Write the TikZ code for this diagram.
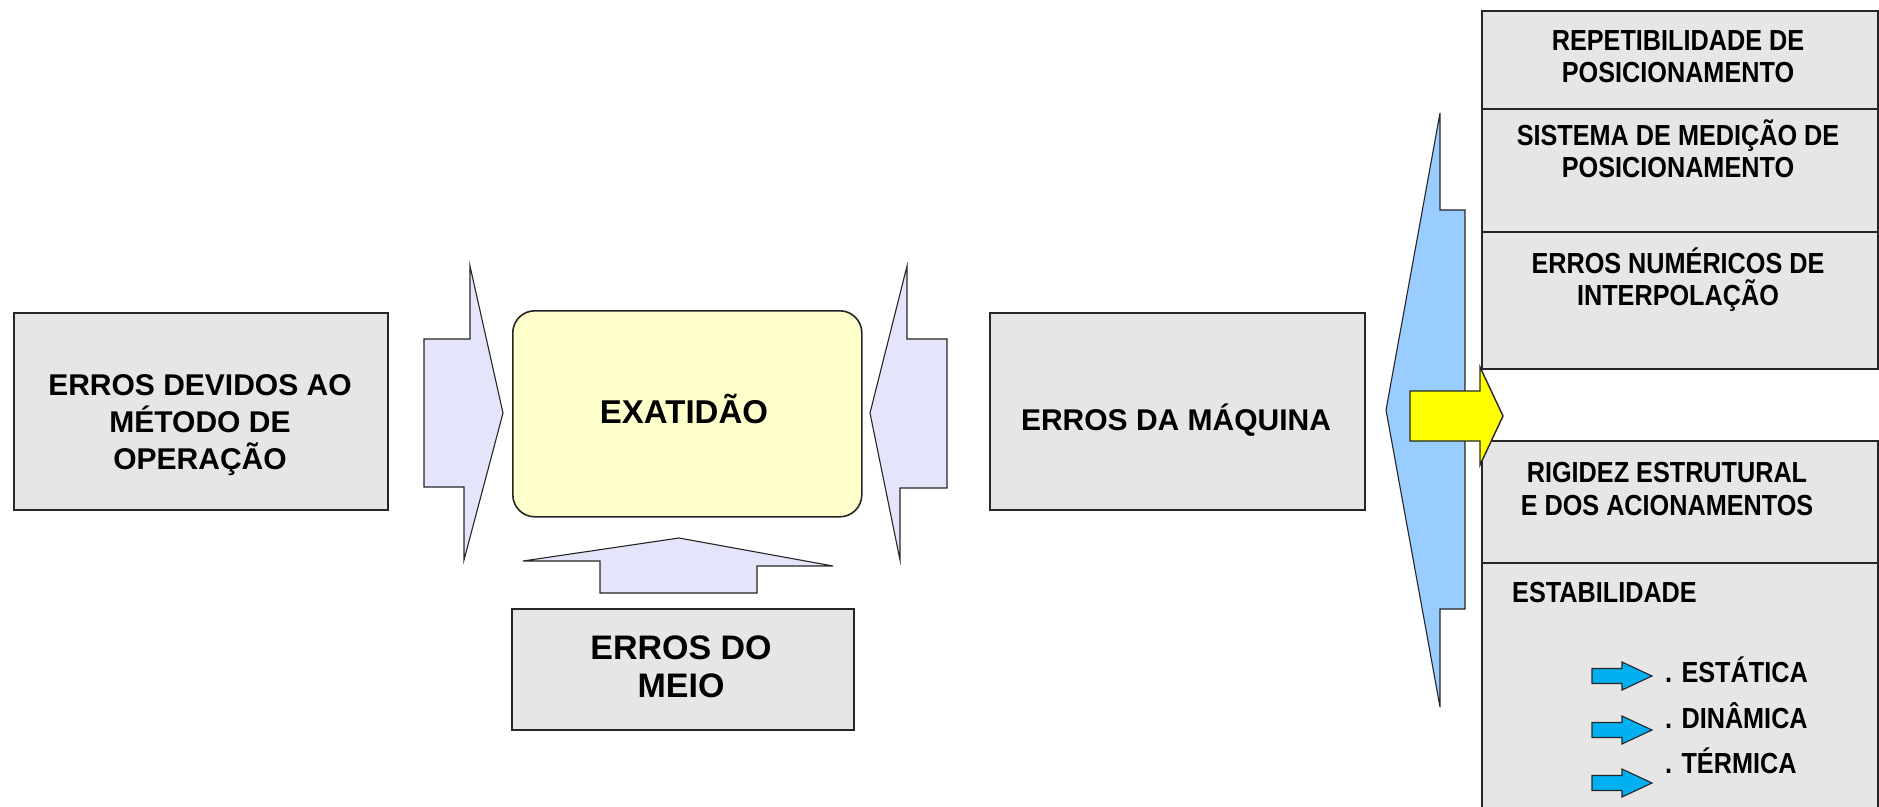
\documentclass[tikz,border=0pt]{standalone}
\usepackage{fontspec}
\setmainfont{Liberation Sans}
\newfontfamily\narrowfont{Liberation Sans}[FakeStretch=0.87]
\definecolor{boxgrey}{RGB}{230,230,230}
\definecolor{lav}{RGB}{228,228,250}
\definecolor{exafill}{RGB}{255,255,204}
\definecolor{bigblue}{RGB}{153,204,255}
\definecolor{smallcyan}{RGB}{0,176,240}
\definecolor{yel}{RGB}{255,255,0}
\tikzset{
  box/.style={draw=black!85, line width=1.6pt, fill=boxgrey, inner sep=0pt, anchor=north west},
  blockarrow/.style={draw=black!85, line width=1.1pt, fill=lav, line join=miter},
  bigtxt/.style={font=\bfseries\fontsize{30}{36}\selectfont, inner sep=0pt, anchor=base},
  narrowtxt/.style={font=\narrowfont\bfseries\fontsize{29}{33}\selectfont, inner sep=0pt, anchor=base},
  smallarrow/.style={draw=black!85, line width=1.1pt, fill=smallcyan},
}
\begin{document}
\begin{tikzpicture}[x=1pt,y=-1pt]
\useasboundingbox (0,0) rectangle (1879,806);
\clip (0,0) rectangle (1879,806);
\fill[white] (0,0) rectangle (1879,806);

% left box
\node[box, minimum width=374pt, minimum height=197pt] (metodo) at (13,312) {};
\node[bigtxt] (m1) at (200,395) {ERROS DEVIDOS AO};
\node[bigtxt] (m2) at (200,432) {MÉTODO DE};
\node[bigtxt] (m3) at (200,469) {OPERAÇÃO};

% exatidao
\node[draw=black!85, line width=1.6pt, fill=exafill, rounded corners=22pt, inner sep=0pt,
      anchor=north west, minimum width=349pt, minimum height=206pt] (exa) at (512,310) {};
\node[bigtxt, font=\bfseries\fontsize{33}{38}\selectfont] (exat) at (684,423) {EXATIDÃO};

% block arrows
\draw[blockarrow] (424,339) -- (470,339) -- (470,266) -- (503,413) -- (464,560) -- (464,487) -- (424,487) -- cycle;
\draw[blockarrow] (947,339) -- (907,339) -- (907,266) -- (870,413) -- (900,560) -- (900,488) -- (947,488) -- cycle;
\draw[blockarrow] (600,593) -- (600,561) -- (523,561) -- (679,538) -- (833,566) -- (757,566) -- (757,593) -- cycle;

% erros do meio
\node[box, minimum width=342pt, minimum height=121pt] (meio) at (511,608) {};
\node[bigtxt, font=\bfseries\fontsize{34}{38}\selectfont] (me1) at (681,659) {ERROS DO};
\node[bigtxt, font=\bfseries\fontsize{34}{38}\selectfont] (me2) at (681,697) {MEIO};

% erros da maquina
\node[box, minimum width=375pt, minimum height=197pt] (maq) at (989,312) {};
\node[bigtxt] (maqt) at (1176,430) {ERROS DA MÁQUINA};

% right column boxes
\node[box, minimum width=396pt, minimum height=98pt] (rep) at (1481,10) {};
\node[box, minimum width=396pt, minimum height=123pt] (sis) at (1481,108) {};
\node[box, minimum width=396pt, minimum height=137pt] (num) at (1481,231) {};
\node[box, minimum width=396pt, minimum height=122pt] (rig) at (1481,440) {};
\node[box, minimum width=396pt, minimum height=280pt] (est) at (1481,562) {};

\node[narrowtxt] (r1) at (1678,50) {REPETIBILIDADE DE};
\node[narrowtxt] (r2) at (1678,82) {POSICIONAMENTO};
\node[narrowtxt] (s1) at (1678,145) {SISTEMA DE MEDIÇÃO DE};
\node[narrowtxt] (s2) at (1678,177) {POSICIONAMENTO};
\node[narrowtxt] (n1) at (1678,273) {ERROS NUMÉRICOS DE};
\node[narrowtxt] (n2) at (1678,305) {INTERPOLAÇÃO};
\node[narrowtxt] (g1) at (1667,482) {RIGIDEZ ESTRUTURAL};
\node[narrowtxt] (g2) at (1667,515) {E DOS ACIONAMENTOS};
\node[narrowtxt, anchor=base west] (e0) at (1512,602) {ESTABILIDADE};
\node[narrowtxt, anchor=base west] (e1) at (1665,682) {. ESTÁTICA};
\node[narrowtxt, anchor=base west] (e2) at (1665,728) {. DINÂMICA};
\node[narrowtxt, anchor=base west] (e3) at (1665,773) {. TÉRMICA};

% big blue arrow
\draw[blockarrow, fill=bigblue] (1465,210) -- (1440,210) -- (1440,113) -- (1386,410) -- (1440,707) -- (1440,609) -- (1465,609) -- cycle;

% yellow arrow
\draw[blockarrow, fill=yel, line width=1.4pt] (1410,391) -- (1480,391) -- (1480,367) -- (1503,416) -- (1480,465) -- (1480,441) -- (1410,441) -- cycle;

% small arrows
\foreach \yy in {676,730,783}{
  \draw[smallarrow, shift={(1592,\yy)}] (0,-7.5) -- (30,-7.5) -- (30,-14) -- (60,0) -- (30,14) -- (30,7.5) -- (0,7.5) -- cycle;
}
\end{tikzpicture}
\end{document}
